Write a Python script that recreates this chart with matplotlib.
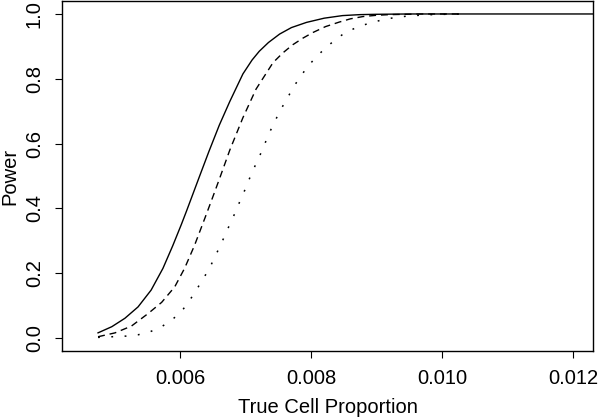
import numpy as np
from matplotlib import pyplot as plt

plt.rcParams['font.family'] = ['Liberation Sans', 'DejaVu Sans']

# power curves
x_solid = [0.00475, 0.00496, 0.00516, 0.00536, 0.00556, 0.00574, 0.00589, 0.00602,
           0.00610, 0.00630, 0.00644, 0.00660, 0.00676, 0.00696, 0.00710, 0.00721,
           0.00735, 0.00752, 0.00770, 0.00793, 0.00820, 0.00848, 0.00875, 0.00900,
           0.00950, 0.01230]
y_solid = [0.016, 0.035, 0.061, 0.096, 0.148, 0.215, 0.285, 0.350,
           0.392, 0.500, 0.575, 0.657, 0.730, 0.815, 0.858, 0.885,
           0.912, 0.938, 0.958, 0.974, 0.987, 0.995, 0.998, 0.999,
           1.000, 1.000]

x_dash = [0.00475, 0.00501, 0.00526, 0.00551, 0.00572, 0.00592, 0.00607, 0.00622,
          0.00638, 0.00650, 0.00660, 0.00676, 0.00696, 0.00716, 0.00742, 0.00757,
          0.00772, 0.00788, 0.00803, 0.00822, 0.00843, 0.00860, 0.00879, 0.00900,
          0.00920, 0.00970, 0.01030]
y_dash = [0.004, 0.016, 0.037, 0.075, 0.110, 0.158, 0.215, 0.285,
          0.370, 0.435, 0.490, 0.580, 0.680, 0.768, 0.850, 0.880,
          0.905, 0.926, 0.943, 0.961, 0.975, 0.985, 0.992, 0.996,
          0.998, 1.000, 1.000]

x_dot = [0.00475, 0.00518, 0.00536, 0.00554, 0.00572, 0.00587, 0.00602, 0.00615,
         0.00625, 0.00634, 0.00644, 0.00652, 0.00660, 0.00668, 0.00676, 0.00684,
         0.00691, 0.00699, 0.00706, 0.00714, 0.00722, 0.00737, 0.00746, 0.00754,
         0.00764, 0.00773, 0.00783, 0.00795, 0.00808, 0.00822, 0.00836, 0.00851,
         0.00870, 0.00888, 0.00907, 0.00925, 0.00945, 0.00965, 0.00985, 0.01005,
         0.01040]
y_dot = [0.002, 0.006, 0.010, 0.019, 0.035, 0.055, 0.081, 0.117,
         0.148, 0.179, 0.211, 0.245, 0.279, 0.314, 0.351, 0.386,
         0.420, 0.457, 0.492, 0.529, 0.564, 0.636, 0.674, 0.706,
         0.741, 0.774, 0.805, 0.838, 0.868, 0.895, 0.919, 0.941,
         0.959, 0.971, 0.981, 0.988, 0.993, 0.996, 0.998, 0.999,
         1.000]

fig = plt.figure(figsize=(6, 4.19), dpi=100)
ax = fig.add_axes([0.1033, 0.1623, 0.885, 0.8353])

ax.plot(x_solid, y_solid, color='black', lw=1.0)
ax.plot(x_dash, y_dash, color='black', lw=1.0, dashes=(5, 3.5))
ax.plot(x_dot, y_dot, color='black', lw=1.1, dashes=(1.2, 7.5))

ax.set_xlim(0.0042, 0.0123)
ax.set_ylim(-0.04, 1.04)
ax.set_xticks([0.006, 0.008, 0.010, 0.012])
ax.set_xticklabels(['0.006', '0.008', '0.010', '0.012'])
ax.set_yticks([0.0, 0.2, 0.4, 0.6, 0.8, 1.0])
ax.set_yticklabels(['0.0', '0.2', '0.4', '0.6', '0.8', '1.0'], rotation=90, va='center')

ax.tick_params(direction='out', length=5, width=0.8, labelsize=14.5, pad=8)
for s in ax.spines.values():
    s.set_linewidth(1.0)

ax.set_xlabel('True Cell Proportion', fontsize=14.5, labelpad=7)
ax.set_ylabel('Power', fontsize=14.5, labelpad=4)

fig.savefig('out.png', dpi=100)
